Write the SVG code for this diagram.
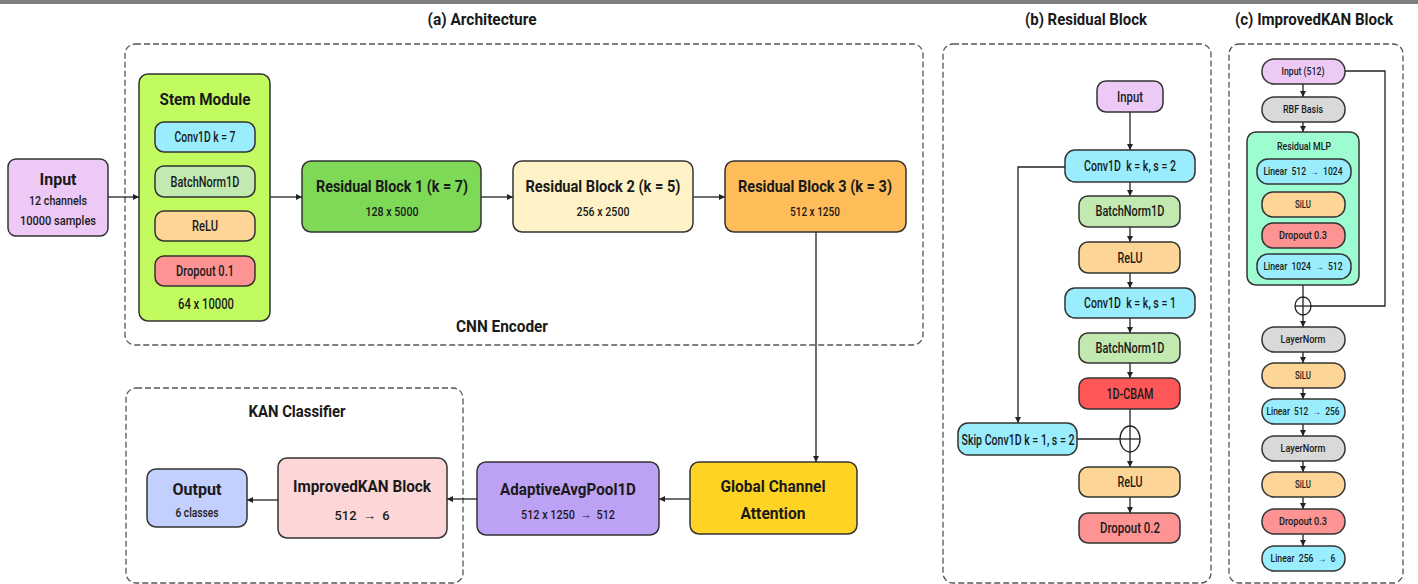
<svg xmlns="http://www.w3.org/2000/svg" width="1418" height="584" viewBox="0 0 1418 584">
<defs>
<marker id="ah" viewBox="0 0 10 10" refX="10" refY="5" markerWidth="6" markerHeight="6" orient="auto" markerUnits="userSpaceOnUse">
<path d="M0,0 L10,5 L0,10 z" fill="#222"/>
</marker>
<style>
text{font-family:Roboto,"Liberation Sans",sans-serif;fill:#1a1a1a;text-anchor:middle}
.t{font-weight:700;font-size:17px}
.h{font-weight:700;font-size:16px}
.s{font-weight:500;font-size:13px}
.m{font-weight:500;font-size:14px}
.c{font-weight:500;font-size:10px}
.n{stroke:#333;stroke-width:1.5}
.d{fill:none;stroke:#555;stroke-width:1.3;stroke-dasharray:6 3}
.e{fill:none;stroke:#222;stroke-width:1.3}
.a{fill:none;stroke:#222;stroke-width:1.3;marker-end:url(#ah)}
</style>
</defs>
<rect x="0" y="0" width="1418" height="584" fill="#fff"/>
<rect x="0" y="0" width="1418" height="4" fill="#7f7f7f"/>

<!-- Titles -->
<text class="h" x="482" y="25" textLength="109" lengthAdjust="spacingAndGlyphs">(a) Architecture</text>
<text class="h" x="1086" y="25" textLength="122" lengthAdjust="spacingAndGlyphs">(b) Residual Block</text>
<text class="h" x="1314" y="25" textLength="158" lengthAdjust="spacingAndGlyphs">(c) ImprovedKAN Block</text>

<!-- Groups (dashed) -->
<g id="cnn-encoder">
<rect class="d" x="125" y="44" width="798" height="301" rx="10"/>
<text class="h" x="502" y="332" textLength="92" lengthAdjust="spacingAndGlyphs">CNN Encoder</text>
</g>
<g id="kan-classifier">
<rect class="d" x="126" y="388" width="337" height="195" rx="10"/>
<text class="h" x="297" y="417" textLength="97" lengthAdjust="spacingAndGlyphs">KAN Classifier</text>
</g>
<g id="panel-b-frame"><rect class="d" x="943" y="44" width="268" height="539" rx="10"/></g>
<g id="panel-c-frame"><rect class="d" x="1229" y="44" width="174" height="539" rx="10"/></g>

<!-- Connectors -->
<g id="connectors">
<!-- panel a -->
<line class="a" x1="108" y1="197" x2="139" y2="197"/>
<line class="a" x1="270" y1="197" x2="302" y2="197"/>
<line class="a" x1="481" y1="197" x2="513" y2="197"/>
<line class="a" x1="693" y1="197" x2="725" y2="197"/>
<line class="a" x1="816" y1="232" x2="816" y2="462"/>
<line class="a" x1="690" y1="499" x2="659" y2="499"/>
<line class="a" x1="477" y1="499" x2="447" y2="499"/>
<line class="a" x1="278" y1="500" x2="247" y2="500"/>
<line class="e" x1="205" y1="152" x2="205" y2="166"/>
<line class="e" x1="205" y1="197" x2="205" y2="211"/>
<line class="e" x1="205" y1="241" x2="205" y2="256"/>
<!-- panel b -->
<line class="a" x1="1130" y1="112" x2="1130" y2="150"/>
<line class="a" x1="1130" y1="182" x2="1130" y2="196"/>
<line class="a" x1="1130" y1="227" x2="1130" y2="242"/>
<line class="a" x1="1130" y1="273" x2="1130" y2="288"/>
<line class="a" x1="1130" y1="318" x2="1130" y2="333"/>
<line class="a" x1="1130" y1="363" x2="1130" y2="378"/>
<line class="e" x1="1130" y1="409" x2="1130" y2="426"/>
<line class="a" x1="1130" y1="452" x2="1130" y2="467"/>
<line class="a" x1="1130" y1="497" x2="1130" y2="513"/>
<polyline class="a" points="1065,167 1018,167 1018,423"/>
<line class="e" x1="1077" y1="439" x2="1120" y2="439"/>
<ellipse cx="1130" cy="439" rx="10" ry="13" fill="none" stroke="#222" stroke-width="1.3"/>
<line class="e" x1="1120" y1="439" x2="1140" y2="439"/>
<line class="e" x1="1130" y1="426" x2="1130" y2="452"/>
<!-- panel c -->
<line class="a" x1="1303" y1="84" x2="1303" y2="97"/>
<line class="a" x1="1303" y1="122" x2="1303" y2="132"/>
<line class="a" x1="1303" y1="184" x2="1303" y2="192"/>
<line class="a" x1="1303" y1="217" x2="1303" y2="223"/>
<line class="a" x1="1303" y1="248" x2="1303" y2="254"/>
<line class="e" x1="1303" y1="285" x2="1303" y2="298"/>
<polyline class="e" points="1345,71 1385,71 1385,306 1311,306"/>
<ellipse cx="1303" cy="306" rx="8" ry="9" fill="none" stroke="#222" stroke-width="1.3"/>
<line class="e" x1="1295" y1="306" x2="1311" y2="306"/>
<line class="e" x1="1303" y1="297" x2="1303" y2="315"/>
<line class="a" x1="1303" y1="315" x2="1303" y2="327"/>
<line class="a" x1="1303" y1="352" x2="1303" y2="363"/>
<line class="a" x1="1303" y1="388" x2="1303" y2="399"/>
<line class="a" x1="1303" y1="424" x2="1303" y2="436"/>
<line class="a" x1="1303" y1="461" x2="1303" y2="472"/>
<line class="a" x1="1303" y1="497" x2="1303" y2="509"/>
<line class="a" x1="1303" y1="534" x2="1303" y2="546"/>
</g>

<!-- Panel a nodes -->
<g id="input">
<rect class="n" x="8" y="159" width="100" height="77" rx="8" fill="#edc9f5"/>
<text class="t" x="58" y="185" textLength="37" lengthAdjust="spacingAndGlyphs">Input</text>
<text class="s" x="58" y="205" textLength="58" lengthAdjust="spacingAndGlyphs">12 channels</text>
<text class="s" x="58" y="225" textLength="76" lengthAdjust="spacingAndGlyphs">10000 samples</text>
</g>
<g id="stem-module">
<rect class="n" x="139" y="74" width="131" height="247" rx="9" fill="#c1fb5f"/>
<text class="h" x="205" y="105" textLength="91" lengthAdjust="spacingAndGlyphs">Stem Module</text>
<text class="m" x="206" y="309" textLength="56" lengthAdjust="spacingAndGlyphs">64 x 10000</text>
</g>
<g id="stem-conv">
<rect class="n" x="155" y="122" width="100" height="30" rx="9" fill="#99edfd"/>
<text class="m" x="205" y="142" textLength="61" lengthAdjust="spacingAndGlyphs">Conv1D k = 7</text>
</g>
<g id="stem-bn">
<rect class="n" x="155" y="166" width="100" height="31" rx="9" fill="#c2e9b0"/>
<text class="m" x="205" y="187" textLength="69" lengthAdjust="spacingAndGlyphs">BatchNorm1D</text>
</g>
<g id="stem-relu">
<rect class="n" x="155" y="211" width="100" height="30" rx="9" fill="#fdd697"/>
<text class="m" x="205" y="231" textLength="26" lengthAdjust="spacingAndGlyphs">ReLU</text>
</g>
<g id="stem-dropout">
<rect class="n" x="155" y="256" width="100" height="30" rx="9" fill="#fd9393"/>
<text class="m" x="205" y="276" textLength="58" lengthAdjust="spacingAndGlyphs">Dropout 0.1</text>
</g>
<g id="rb1">
<rect class="n" x="302" y="161" width="179" height="71" rx="9" fill="#7ed957"/>
<text class="t" x="392" y="192" textLength="152" lengthAdjust="spacingAndGlyphs">Residual Block 1 (k = 7)</text>
<text class="s" x="392" y="216" textLength="53" lengthAdjust="spacingAndGlyphs">128 x 5000</text>
</g>
<g id="rb2">
<rect class="n" x="513" y="161" width="180" height="71" rx="9" fill="#fff2c7"/>
<text class="t" x="603" y="192" textLength="155" lengthAdjust="spacingAndGlyphs">Residual Block 2 (k = 5)</text>
<text class="s" x="603" y="216" textLength="53" lengthAdjust="spacingAndGlyphs">256 x 2500</text>
</g>
<g id="rb3">
<rect class="n" x="725" y="161" width="181" height="71" rx="9" fill="#ffbd59"/>
<text class="t" x="815" y="192" textLength="154" lengthAdjust="spacingAndGlyphs">Residual Block 3 (k = 3)</text>
<text class="s" x="815" y="216" textLength="50" lengthAdjust="spacingAndGlyphs">512 x 1250</text>
</g>
<g id="gca">
<rect class="n" x="690" y="462" width="167" height="72" rx="9" fill="#ffd324"/>
<text class="t" x="773" y="492" textLength="105" lengthAdjust="spacingAndGlyphs">Global Channel</text>
<text class="t" x="773" y="519" textLength="65" lengthAdjust="spacingAndGlyphs">Attention</text>
</g>
<g id="avgpool">
<rect class="n" x="477" y="462" width="182" height="73" rx="9" fill="#bda1f4"/>
<text class="t" x="568" y="495" textLength="136" lengthAdjust="spacingAndGlyphs">AdaptiveAvgPool1D</text>
<text class="s" x="568" y="519" textLength="94" lengthAdjust="spacingAndGlyphs" xml:space="preserve">512 x 1250  →  512</text>
</g>
<g id="improvedkan">
<rect class="n" x="278" y="458" width="169" height="80" rx="9" fill="#fdd7d7"/>
<text class="t" x="362" y="492" textLength="138" lengthAdjust="spacingAndGlyphs">ImprovedKAN Block</text>
<text class="s" x="362" y="520" textLength="55" lengthAdjust="spacingAndGlyphs" xml:space="preserve">512  →  6</text>
</g>
<g id="output">
<rect class="n" x="147" y="469" width="100" height="58" rx="9" fill="#c3cffd"/>
<text class="t" x="197" y="495" textLength="49" lengthAdjust="spacingAndGlyphs">Output</text>
<text class="s" x="197" y="517" textLength="43" lengthAdjust="spacingAndGlyphs">6 classes</text>
</g>

<!-- Panel b nodes -->
<g id="b-input">
<rect class="n" x="1097" y="81" width="66" height="31" rx="9" fill="#edc9f5"/>
<text class="m" x="1130" y="102" textLength="26" lengthAdjust="spacingAndGlyphs">Input</text>
</g>
<g id="b-conv1">
<rect class="n" x="1065" y="150" width="130" height="32" rx="10" fill="#99edfd"/>
<text class="m" x="1130" y="171" textLength="92" lengthAdjust="spacingAndGlyphs" xml:space="preserve">Conv1D  k = k, s = 2</text>
</g>
<g id="b-bn1">
<rect class="n" x="1079" y="196" width="101" height="31" rx="9" fill="#c2e9b0"/>
<text class="m" x="1130" y="216" textLength="69" lengthAdjust="spacingAndGlyphs">BatchNorm1D</text>
</g>
<g id="b-relu1">
<rect class="n" x="1079" y="242" width="101" height="31" rx="9" fill="#fdd697"/>
<text class="m" x="1130" y="263" textLength="25" lengthAdjust="spacingAndGlyphs">ReLU</text>
</g>
<g id="b-conv2">
<rect class="n" x="1065" y="288" width="130" height="30" rx="10" fill="#99edfd"/>
<text class="m" x="1130" y="308" textLength="92" lengthAdjust="spacingAndGlyphs" xml:space="preserve">Conv1D  k = k, s = 1</text>
</g>
<g id="b-bn2">
<rect class="n" x="1079" y="333" width="101" height="30" rx="9" fill="#c2e9b0"/>
<text class="m" x="1130" y="353" textLength="69" lengthAdjust="spacingAndGlyphs">BatchNorm1D</text>
</g>
<g id="b-cbam">
<rect class="n" x="1079" y="378" width="101" height="31" rx="9" fill="#ff5757"/>
<text class="m" x="1130" y="399" textLength="47" lengthAdjust="spacingAndGlyphs">1D-CBAM</text>
</g>
<g id="b-skip">
<rect class="n" x="958" y="423" width="119" height="32" rx="10" fill="#99edfd"/>
<text class="m" x="1018" y="445" textLength="113" lengthAdjust="spacingAndGlyphs">Skip Conv1D k = 1, s = 2</text>
</g>
<g id="b-relu2">
<rect class="n" x="1079" y="467" width="101" height="30" rx="9" fill="#fdd697"/>
<text class="m" x="1130" y="487" textLength="25" lengthAdjust="spacingAndGlyphs">ReLU</text>
</g>
<g id="b-dropout">
<rect class="n" x="1079" y="513" width="101" height="30" rx="9" fill="#fd9393"/>
<text class="m" x="1130" y="533" textLength="60" lengthAdjust="spacingAndGlyphs">Dropout 0.2</text>
</g>

<!-- Panel c nodes -->
<g id="c-input">
<rect class="n" x="1262" y="59" width="83" height="25" rx="12" fill="#edc9f5"/>
<text class="c" x="1303" y="75" textLength="43" lengthAdjust="spacingAndGlyphs">Input (512)</text>
</g>
<g id="c-rbf">
<rect class="n" x="1262" y="97" width="83" height="25" rx="12" fill="#d9d9d9"/>
<text class="c" x="1303" y="113" textLength="40" lengthAdjust="spacingAndGlyphs">RBF Basis</text>
</g>
<g id="c-mlp">
<rect class="n" x="1247" y="132" width="112" height="153" rx="9" fill="#9efdd0"/>
<text class="c" x="1304" y="150" textLength="54" lengthAdjust="spacingAndGlyphs">Residual MLP</text>
</g>
<g id="c-lin1">
<rect class="n" x="1257" y="159" width="94" height="25" rx="11" fill="#99edfd"/>
<text class="c" x="1303" y="175" textLength="79" lengthAdjust="spacingAndGlyphs" xml:space="preserve">Linear  512  →  1024</text>
</g>
<g id="c-silu1">
<rect class="n" x="1262" y="192" width="83" height="25" rx="11" fill="#fdd697"/>
<text class="c" x="1303" y="208" textLength="16" lengthAdjust="spacingAndGlyphs">SiLU</text>
</g>
<g id="c-drop1">
<rect class="n" x="1262" y="223" width="83" height="25" rx="11" fill="#fd9393"/>
<text class="c" x="1303" y="239" textLength="48" lengthAdjust="spacingAndGlyphs">Dropout 0.3</text>
</g>
<g id="c-lin2">
<rect class="n" x="1257" y="254" width="94" height="25" rx="11" fill="#99edfd"/>
<text class="c" x="1303" y="270" textLength="79" lengthAdjust="spacingAndGlyphs" xml:space="preserve">Linear  1024  →  512</text>
</g>
<g id="c-ln1">
<rect class="n" x="1262" y="327" width="83" height="25" rx="12" fill="#d9d9d9"/>
<text class="c" x="1303" y="343" textLength="45" lengthAdjust="spacingAndGlyphs">LayerNorm</text>
</g>
<g id="c-silu2">
<rect class="n" x="1262" y="363" width="83" height="25" rx="12" fill="#fdd697"/>
<text class="c" x="1303" y="379" textLength="16" lengthAdjust="spacingAndGlyphs">SiLU</text>
</g>
<g id="c-lin3">
<rect class="n" x="1262" y="399" width="83" height="25" rx="12" fill="#99edfd"/>
<text class="c" x="1303" y="415" textLength="73" lengthAdjust="spacingAndGlyphs" xml:space="preserve">Linear  512  →  256</text>
</g>
<g id="c-ln2">
<rect class="n" x="1262" y="436" width="83" height="25" rx="12" fill="#d9d9d9"/>
<text class="c" x="1303" y="452" textLength="45" lengthAdjust="spacingAndGlyphs">LayerNorm</text>
</g>
<g id="c-silu3">
<rect class="n" x="1262" y="472" width="83" height="25" rx="12" fill="#fdd697"/>
<text class="c" x="1303" y="488" textLength="16" lengthAdjust="spacingAndGlyphs">SiLU</text>
</g>
<g id="c-drop2">
<rect class="n" x="1262" y="509" width="83" height="25" rx="12" fill="#fd9393"/>
<text class="c" x="1303" y="525" textLength="48" lengthAdjust="spacingAndGlyphs">Dropout 0.3</text>
</g>
<g id="c-lin4">
<rect class="n" x="1262" y="546" width="83" height="25" rx="12" fill="#99edfd"/>
<text class="c" x="1303" y="562" textLength="65" lengthAdjust="spacingAndGlyphs" xml:space="preserve">Linear  256  →  6</text>
</g>
</svg>
